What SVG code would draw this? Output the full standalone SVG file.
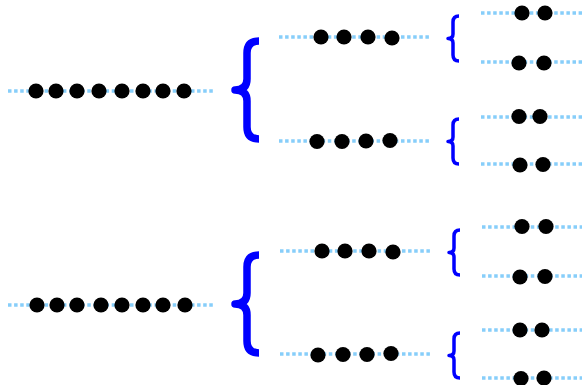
<svg xmlns="http://www.w3.org/2000/svg" width="582" height="385" viewBox="0 0 582 385">
<defs>
<style>
.ln{stroke:#87CEFA;stroke-width:3.5;stroke-dasharray:3.5 2.6;fill:none}
.d{fill:#000}
.bb{stroke:#0000FF;stroke-width:7.5;fill:none;stroke-linejoin:round}
.sb{stroke:#0000FF;stroke-width:3.5;fill:none;stroke-linejoin:round}
</style>
<path id="big" d="M259,41 Q247,41 247,53 L247,79 Q247,90 235,90 Q247,90 247,101 L247,127 Q247,139 259,139"/>
<path id="small" d="M459,16 Q453,16 453,22 L453,34 Q453,38.5 448,38.5 Q453,38.5 453,43 L453,55 Q453,61 459,61"/>
</defs>
<g id="connectors">
<line class="ln" x1="8" y1="91" x2="214" y2="91"/>
<line class="ln" x1="8" y1="305" x2="214" y2="305"/>
<line class="ln" x1="279" y1="37" x2="430" y2="37"/>
<line class="ln" x1="279" y1="141" x2="430" y2="141"/>
<line class="ln" x1="280" y1="251" x2="431" y2="251"/>
<line class="ln" x1="280" y1="354" x2="431" y2="354"/>
<line class="ln" x1="481" y1="13" x2="582" y2="13"/>
<line class="ln" x1="481" y1="62" x2="582" y2="62"/>
<line class="ln" x1="481" y1="117" x2="582" y2="117"/>
<line class="ln" x1="481" y1="164" x2="582" y2="164"/>
<line class="ln" x1="482" y1="227" x2="582" y2="227"/>
<line class="ln" x1="482" y1="276" x2="582" y2="276"/>
<line class="ln" x1="482" y1="330" x2="582" y2="330"/>
<line class="ln" x1="482" y1="378" x2="582" y2="378"/>
</g>
<g id="brace-top"><use href="#big" class="bb"/></g>
<g id="brace-bottom"><use href="#big" class="bb" transform="translate(0,214)"/></g>
<g id="brace-s1"><use href="#small" class="sb"/></g>
<g id="brace-s2"><use href="#small" class="sb" transform="translate(0,103)"/></g>
<g id="brace-s3"><use href="#small" class="sb" transform="translate(1,214)"/></g>
<g id="brace-s4"><use href="#small" class="sb" transform="translate(1,317)"/></g>
<g id="node-a">
<circle class="d" cx="36" cy="91" r="7.6"/><circle class="d" cx="56" cy="91" r="7.6"/><circle class="d" cx="77" cy="91" r="7.6"/><circle class="d" cx="99" cy="91" r="7.6"/><circle class="d" cx="122" cy="91" r="7.6"/><circle class="d" cx="143" cy="91" r="7.6"/><circle class="d" cx="163" cy="91" r="7.6"/><circle class="d" cx="184" cy="91" r="7.6"/>
</g>
<g id="node-b">
<circle class="d" cx="37" cy="305" r="7.6"/><circle class="d" cx="57" cy="305" r="7.6"/><circle class="d" cx="77" cy="305" r="7.6"/><circle class="d" cx="101" cy="305" r="7.6"/><circle class="d" cx="122" cy="305" r="7.6"/><circle class="d" cx="143" cy="305" r="7.6"/><circle class="d" cx="163" cy="305" r="7.6"/><circle class="d" cx="185" cy="305" r="7.6"/>
</g>
<g id="node-a1">
<circle class="d" cx="321" cy="37" r="7.6"/><circle class="d" cx="344" cy="37" r="7.6"/><circle class="d" cx="368" cy="37" r="7.6"/><circle class="d" cx="392" cy="38" r="7.6"/>
</g>
<g id="node-a2">
<circle class="d" cx="317" cy="141.5" r="7.6"/><circle class="d" cx="342" cy="141.5" r="7.6"/><circle class="d" cx="366" cy="141" r="7.6"/><circle class="d" cx="390" cy="140.5" r="7.6"/>
</g>
<g id="node-b1">
<circle class="d" cx="322" cy="251" r="7.6"/><circle class="d" cx="345" cy="251" r="7.6"/><circle class="d" cx="369" cy="251" r="7.6"/><circle class="d" cx="393" cy="252" r="7.6"/>
</g>
<g id="node-b2">
<circle class="d" cx="318" cy="355" r="7.6"/><circle class="d" cx="343" cy="354.5" r="7.6"/><circle class="d" cx="367" cy="354.5" r="7.6"/><circle class="d" cx="391" cy="353.5" r="7.6"/>
</g>
<g id="node-a1a"><circle class="d" cx="522" cy="13" r="7.6"/><circle class="d" cx="545" cy="13" r="7.6"/></g>
<g id="node-a1b"><circle class="d" cx="519" cy="63" r="7.6"/><circle class="d" cx="544" cy="63" r="7.6"/></g>
<g id="node-a2a"><circle class="d" cx="519" cy="116.5" r="7.6"/><circle class="d" cx="540" cy="116.5" r="7.6"/></g>
<g id="node-a2b"><circle class="d" cx="520" cy="165" r="7.6"/><circle class="d" cx="543" cy="164.5" r="7.6"/></g>
<g id="node-b1a"><circle class="d" cx="522" cy="226.5" r="7.6"/><circle class="d" cx="546" cy="226.5" r="7.6"/></g>
<g id="node-b1b"><circle class="d" cx="520" cy="277" r="7.6"/><circle class="d" cx="545" cy="276.5" r="7.6"/></g>
<g id="node-b2a"><circle class="d" cx="520" cy="330" r="7.6"/><circle class="d" cx="542" cy="330" r="7.6"/></g>
<g id="node-b2b"><circle class="d" cx="521" cy="378.5" r="7.6"/><circle class="d" cx="544" cy="378" r="7.6"/></g>
</svg>
